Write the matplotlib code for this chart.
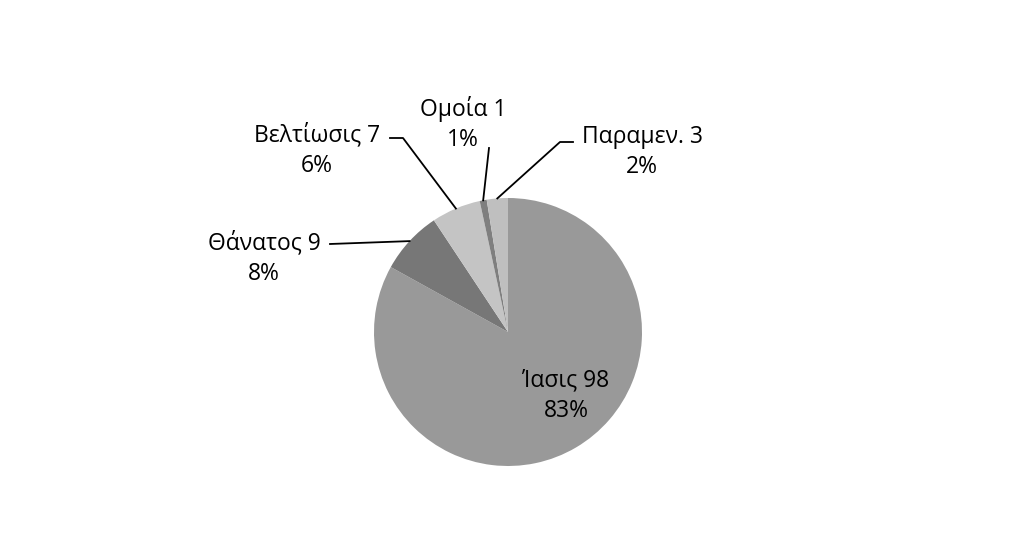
import numpy as np
import matplotlib.pyplot as plt

plt.rcParams['font.family'] = ['Open Sans', 'Noto Sans', 'DejaVu Sans']

# data
categories = ["Ίασις", "Θάνατος", "Βελτίωσις", "Ομοία", "Παραμεν."]
values = [98, 9, 7, 1, 3]
percent_labels = ["83%", "8%", "6%", "1%", "2%"]
colors = ["#999999", "#777777", "#c4c4c4", "#7f7f7f", "#bfbfbf"]

W, H = 1024, 548
cx, cy, r = 508, H - 332, 134

fig = plt.figure(figsize=(W / 100, H / 100), dpi=100)
ax = fig.add_axes([0, 0, 1, 1])

wedges, _ = ax.pie(values, colors=colors, startangle=90, counterclock=False,
                   center=(cx, cy), radius=r, frame=True,
                   wedgeprops=dict(linewidth=0))
ax.set_xlim(0, W)
ax.set_ylim(0, H)
ax.set_aspect("equal")
ax.axis("off")

def anchor(w):
    a = np.deg2rad((w.theta1 + w.theta2) / 2)
    return cx + r * np.cos(a), cy + r * np.sin(a)

# label layout (pixel coords from the top), leader line knee points
layout = {
    0: dict(xy=(566, 396), line=None),
    1: dict(xy=(264, 258), line=[(330, 244)]),
    2: dict(xy=(317, 150), line=[(390, 138), (403, 138)]),
    3: dict(xy=(463, 124), line=[(489, 148)]),
    4: dict(xy=(642, 152), line=[(573, 142), (560, 142)]),
}

for i, w in enumerate(wedges):
    lx, ly = layout[i]["xy"]
    ax.text(lx, H - ly, f"{categories[i]} {values[i]}\n{percent_labels[i]}",
            ha="center", va="center", fontsize=16.5, color="black",
            linespacing=1.36)
    if layout[i]["line"]:
        pts = [(x, H - y) for x, y in layout[i]["line"]] + [anchor(w)]
        xs, ys = zip(*pts)
        ax.plot(xs, ys, color="black", lw=1.3)

fig.savefig("out.png", dpi=100, facecolor="white")
